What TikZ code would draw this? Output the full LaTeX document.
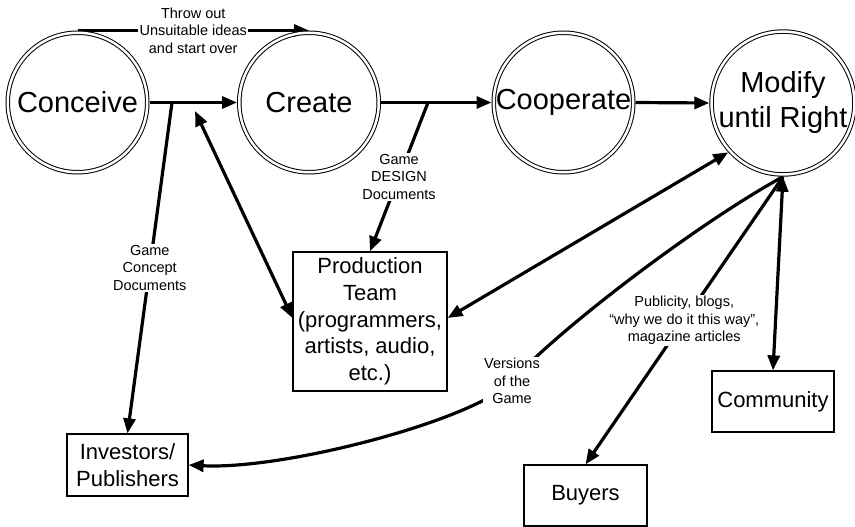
\documentclass[tikz,border=0pt]{standalone}
\usepackage{fontspec}
\setmainfont{Liberation Sans}
\usetikzlibrary{arrows.meta}
\pgfdeclarelayer{bg}
\pgfsetlayers{bg,main}
\begin{document}
\begin{tikzpicture}[x=1pt,y=-1pt,
  stage/.style={circle,draw,double,line width=1pt,double distance=2.5pt,
    minimum size=139.5pt,inner sep=0pt,outer sep=2.25pt,align=center,
    font=\fontsize{29}{35}\selectfont},
  box/.style={draw,line width=1.2pt,inner sep=0pt,align=center,
    font=\fontsize{22}{26.75}\selectfont},
  conn/.style={line width=3.2pt,-{Triangle[length=15pt,width=12pt]}},
  biconn/.style={line width=3.2pt,{Triangle[length=15pt,width=12pt]}-{Triangle[length=15pt,width=12pt]}},
  lbl/.style={fill=white,inner sep=1.5pt,align=center,
    font=\fontsize{14.5}{17.5}\selectfont}
]
\useasboundingbox (0,0) rectangle (855,527);

% stages
\node[stage] (conceive) at (77.5,102.5) {Conceive};
\node[stage] (create) at (309,102.5) {Create};
\node[stage] (coop) at (563.5,102.5) {Cooperate};
\node[stage] (modify) at (783,103) {Modify\\until Right};

% boxes
\node[box,minimum width=154pt,minimum height=139pt] (prod) at (370,321.5)
  {Production\\Team\\(programmers,\\artists, audio,\\etc.)};
\node[box,minimum width=121pt,minimum height=62pt] (inv) at (127.5,465) {Investors/\\Publishers};
\node[box,minimum width=123pt,minimum height=61pt] (buy) at (585.5,495.5) {Buyers};
\node[box,minimum width=122pt,minimum height=61pt] (com) at (773,401.5) {Community};

% free ends
\coordinate (c1) at (172,102.5);
\coordinate (c2) at (195,111);
\coordinate (c3) at (428,102.5);
\coordinate (vmid) at (512,381);

\begin{pgfonlayer}{bg}
\draw[conn] (conceive.east) -- (create.west);
\draw[conn] (create.east) -- (coop.west);
\draw[conn] (coop.east) -- (modify.west);
\draw[conn] (conceive.north) -- node[lbl,pos=0.5] (throw)
  {Throw out\\Unsuitable ideas\\and start over} (create.north);
\draw[conn] (c1) -- node[lbl,pos=0.5] (gcd) {Game\\Concept\\Documents} (inv.north);
\draw[biconn] (c2) -- ([yshift=3.5pt]prod.west);
\draw[conn] (c3) -- node[lbl,pos=0.5] (gdd) {Game\\DESIGN\\Documents} (prod.north);
\draw[biconn] ([yshift=3.5pt]prod.east) -- (modify.222);
\draw[conn] (modify.south) -- node[lbl,pos=0.5] (pub)
  {Publicity, blogs,\\“why we do it this way”,\\magazine articles} (buy.north);
\draw[conn] (modify.south) .. controls (700,222) and (560,328) .. (vmid)
  .. controls (475,420) and (285,470) .. (inv.east);
\node[lbl] (ver) at (vmid) {Versions\\of the\\Game};
\draw[biconn] (modify.south) -- (com.north);
\end{pgfonlayer}
\end{tikzpicture}
\end{document}
